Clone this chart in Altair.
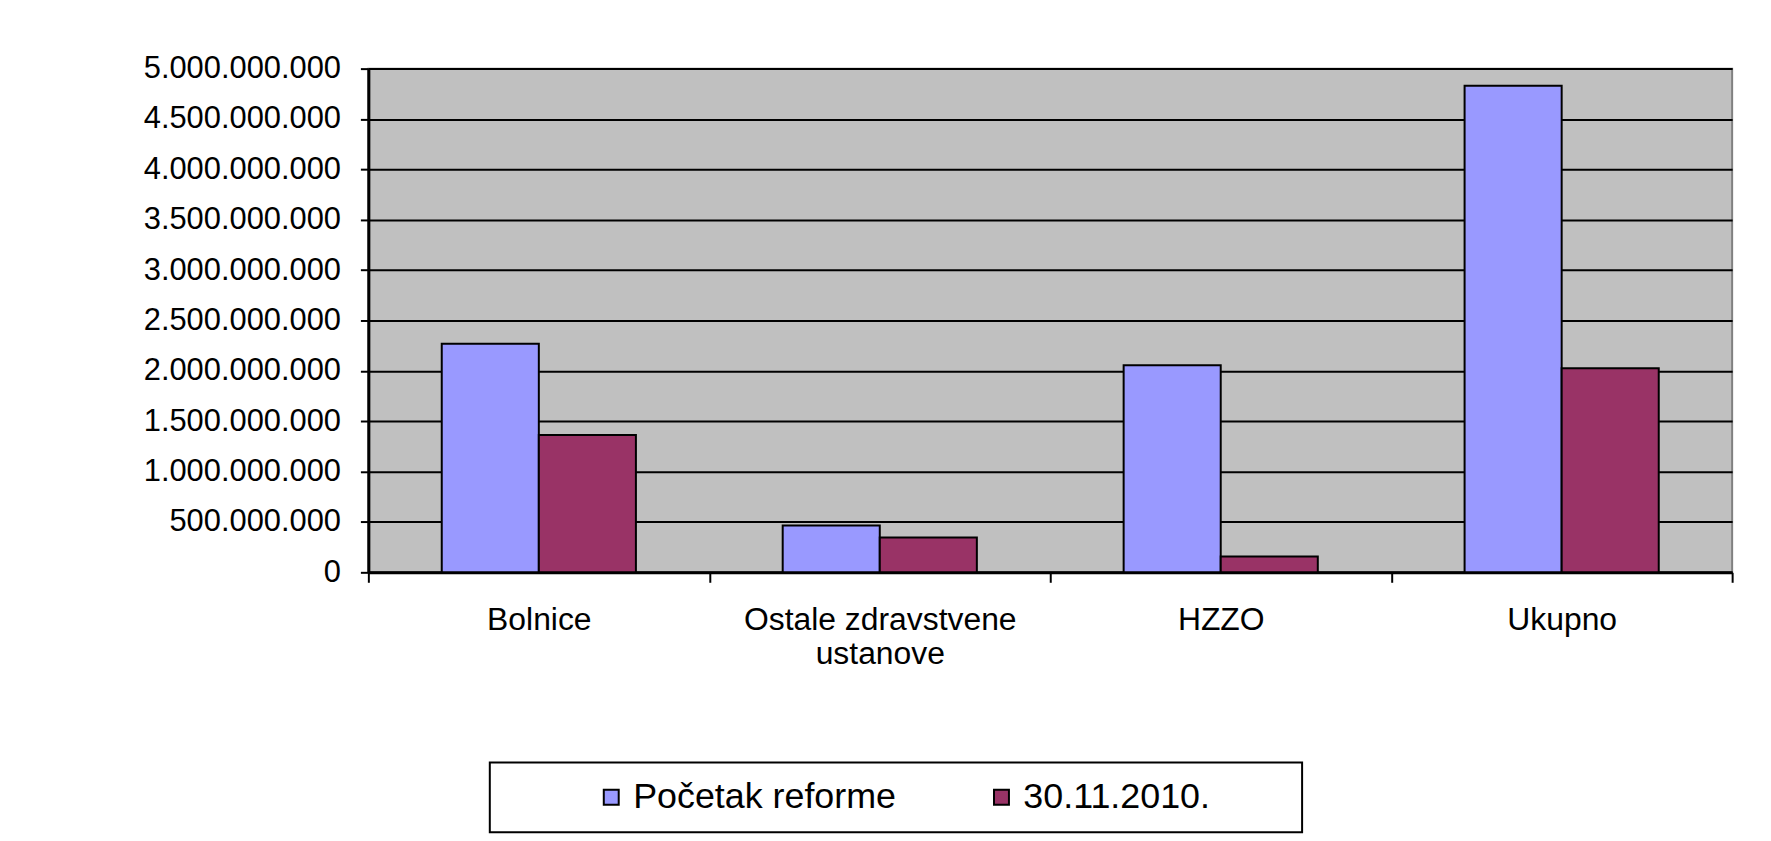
import altair as alt
import pandas as pd

categories = ["Bolnice", "Ostale zdravstvene ustanove", "HZZO", "Ukupno"]
series_names = ["Početak reforme", "30.11.2010."]
pocetak = [2270000000, 464000000, 2055000000, 4830000000]
datum_2010 = [1364000000, 346000000, 158000000, 2026000000]
colors = ["#9999FF", "#993366"]
y_ticks = [0, 500000000, 1000000000, 1500000000, 2000000000, 2500000000,
           3000000000, 3500000000, 4000000000, 4500000000, 5000000000]

rows = []
for i, c in enumerate(categories):
    rows.append({"Kategorija": c, "Serija": series_names[0], "Iznos": pocetak[i]})
    rows.append({"Kategorija": c, "Serija": series_names[1], "Iznos": datum_2010[i]})
df = pd.DataFrame(rows)

FONT = "Liberation Sans"

chart = alt.Chart(df).mark_bar(stroke="black", strokeWidth=2).encode(
    x=alt.X("Kategorija:N", sort=categories, title=None,
            scale=alt.Scale(paddingInner=0, paddingOuter=0),
            axis=alt.Axis(labelAngle=0, tickBand="extent", tickSize=10, tickWidth=2,
                          tickColor="black", domainColor="black", domainWidth=3,
                          labelFontSize=32, labelFont=FONT, labelColor="black",
                          labelPadding=22, labelLineHeight=35, labelLimit=400,
                          labelExpr="datum.label == 'Ostale zdravstvene ustanove' ? ['Ostale zdravstvene', 'ustanove'] : datum.label")),
    xOffset=alt.XOffset("Serija:N", sort=series_names,
                        scale=alt.Scale(paddingInner=0, paddingOuter=0.756)),
    y=alt.Y("Iznos:Q", title=None,
            scale=alt.Scale(domain=[0, 5000000000], nice=False),
            axis=alt.Axis(values=y_ticks, format=",.0f", tickSize=8, tickWidth=2,
                          tickColor="black", domainColor="black", domainWidth=3,
                          grid=True, gridColor="black", gridWidth=2, gridOpacity=1,
                          labelFontSize=31, labelFont=FONT, labelColor="black",
                          labelPadding=20, labelLimit=400)),
    color=alt.Color("Serija:N", sort=series_names,
                    scale=alt.Scale(domain=series_names, range=colors),
                    legend=alt.Legend(title=" ", titleOrient="right", titlePadding=75,
                                      titleFontSize=10, orient="none",
                                      legendX=122, legendY=697, direction="horizontal",
                                      columns=2, columnPadding=0, symbolOffset=87,
                                      labelFont=FONT, labelLimit=700,
                                      labelFontSize=36, labelColor="black",
                                      labelOffset=4, symbolType="square", symbolSize=225,
                                      symbolStrokeColor="black", symbolStrokeWidth=2,
                                      strokeColor="black", padding=17)),
).properties(
    width=1370,
    height=506,
    autosize=alt.AutoSizeParams(type="none"),
    padding={"left": 362, "top": 59, "right": 31, "bottom": 268},
).configure(
    background="white",
    locale=alt.Locale(number=alt.NumberLocale(decimal=",", thousands=".", grouping=[3], currency=["", ""]))
).configure_view(
    fill="#C0C0C0", stroke="#808080", strokeWidth=2
).configure_legend(
    strokeWidth=2
)

chart.save("out.html", embed_options={"renderer": "svg", "actions": False})
